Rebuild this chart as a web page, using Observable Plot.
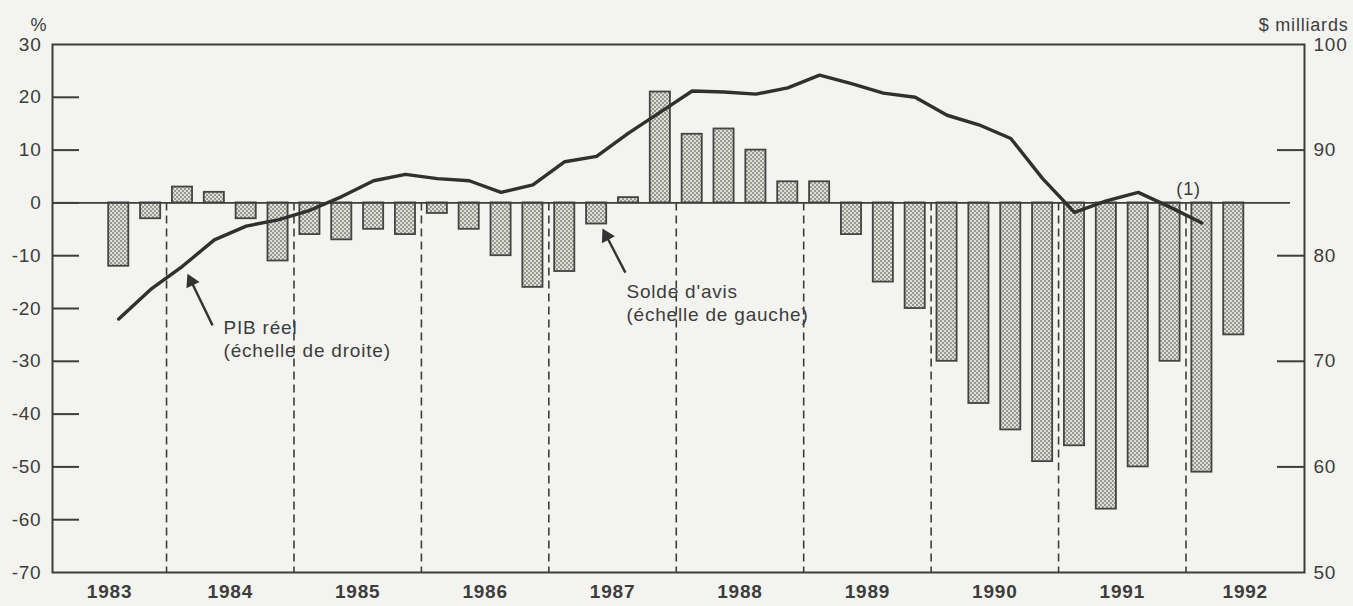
<!DOCTYPE html>
<html><head><meta charset="utf-8">
<script src="https://cdn.jsdelivr.net/npm/d3@7"></script>
<script src="https://cdn.jsdelivr.net/npm/@observablehq/plot@0.6"></script>
<style>
html,body{margin:0;padding:0;background:#f3f3ef;}
#chart svg{display:block;}
#chart svg text{letter-spacing:0.8px;}
</style></head><body><div id="chart"></div>
<script>
// ---- data ----
const years = [1983,1984,1985,1986,1987,1988,1989,1990,1991,1992];
const firstYear = 1983, firstQuarter = 3; // premier trimestre affiché : 1983 T3
// Solde d'avis (%), échelle de gauche, trimestriel 1983T3 - 1992T2
const soldeAvis = [-12,-3, 3,2,-3,-11, -6,-7,-5,-6, -2,-5,-10,-16, -13,-4,1,21, 13,14,10,4, 4,-6,-15,-20, -30,-38,-43,-49, -46,-58,-50,-30, -51,-25];
// PIB réel ($ milliards), échelle de droite, trimestriel 1983T3 - 1992T1
const pibReel = [74.0,76.8,79.0,81.5,82.8,83.4,84.3,85.6,87.1,87.7, 87.3,87.1,86.0,86.7,88.9,89.4,91.6,93.6, 95.6,95.5,95.3,95.9,97.1,96.3,95.4,95.0, 93.3,92.4,91.1,87.3,84.1,85.2,86.0,84.6,83.1];
const leftTicks = [-70,-60,-50,-40,-30,-20,-10,0,10,20,30];
const rightTicks = [50,60,70,80,90,100];
const xDomain = [1983.105, 1992.93];
const annotations = [
  {x: 1984.447, y: -25.6, text: "PIB réel\n(échelle de droite)"},
  {x: 1987.609, y: -18.8, text: "Solde d'avis\n(échelle de gauche)"},
  {x: 1992.02, y: 2.5, text: "(1)"}
];
const arrows = [
  {x1: 1984.361, y1: -23.2, x2: 1984.164, y2: -13.4, rot: -26},
  {x1: 1987.601, y1: -13.2, x2: 1987.421, y2: -4.85, rot: -28}
];

// ---- helpers ----
const rightToLeft = v => (v - 85) * 2;      // 100..50  <->  30..-70
const leftToRight = v => 85 + v / 2;
const qTime = i => firstYear + (firstQuarter - 1 + i + 0.5) / 4;
const bars = soldeAvis.map((v, i) => ({t: qTime(i), v}));
const line = pibReel.map((v, i) => ({t: qTime(i), v}));
const halfBar = 0.079;

const W = 1353, H = 606, mL = 52, mR = 49, mT = 44, mB = 34;
const innerW = W - mL - mR, innerH = H - mT - mB;
const tickLen = 27;
const ink = "#3d3d3d";
const fs = 19;

// arrow head: filled triangle whose tip sits on (x2, y2)
const pxX = innerW / (xDomain[1] - xDomain[0]);
const pxY = innerH / 100;
const headBack = 8.5; // px from tip to centroid
const heads = arrows.map(a => {
  const dxp = (a.x1 - a.x2) * pxX, dyp = -(a.y1 - a.y2) * pxY;
  const len = Math.hypot(dxp, dyp);
  return {x: a.x2 + (dxp / len * headBack) / pxX, y: a.y2 - (dyp / len * headBack) / pxY, rot: a.rot};
});

const plot = Plot.plot({
  width: W, height: H,
  marginLeft: mL, marginRight: mR, marginTop: mT, marginBottom: mB,
  style: {fontFamily: "'Liberation Sans', Arial, Helvetica, sans-serif", fontSize: fs + "px", color: ink, background: "transparent"},
  x: {domain: xDomain, axis: null},
  y: {domain: [-70, 30], axis: null},
  marks: [
    Plot.ruleX(years.slice(1), {y1: 0, y2: -70, stroke: ink, strokeWidth: 1.6, strokeDasharray: "8,5"}),
    Plot.rect(bars, {x1: d => d.t - halfBar, x2: d => d.t + halfBar, y1: 0, y2: "v",
      fill: "url(#stip)", stroke: "#444", strokeWidth: 1.8}),
    Plot.ruleY([0], {insetRight: 14, stroke: ink, strokeWidth: 1.6}),
    Plot.line(line, {x: "t", y: d => rightToLeft(d.v), stroke: "#303030", strokeWidth: 3.4, strokeLinejoin: "round"}),
    Plot.ruleY(leftTicks.slice(1, -1), {insetRight: innerW - tickLen, stroke: ink, strokeWidth: 2}),
    Plot.ruleY(rightTicks.slice(1, -1).map(rightToLeft), {insetLeft: innerW - tickLen, stroke: ink, strokeWidth: 2}),
    Plot.frame({stroke: ink, strokeWidth: 2}),
    Plot.axisY(leftTicks, {anchor: "left", tickSize: 0, tickPadding: 11, tickFormat: d => String(d), fontSize: fs}),
    Plot.axisY(rightTicks.map(rightToLeft), {anchor: "right", tickSize: 0, tickPadding: 9, tickFormat: d => String(leftToRight(d)), fontSize: fs}),
    Plot.text(years, {x: y => (Math.max(y, xDomain[0]) + Math.min(y + 1, xDomain[1])) / 2,
      text: d => String(d), frameAnchor: "bottom", dy: 25, fontWeight: "bold", fontSize: fs}),
    Plot.text(["%"], {frameAnchor: "top-left", dx: -22, dy: -26, fontSize: 18}),
    Plot.text(["$ milliards"], {frameAnchor: "top-right", dx: 44, dy: -26, textAnchor: "end", fontSize: 18}),
    Plot.text(annotations.slice(0, 2), {x: "x", y: "y", text: "text", textAnchor: "start", lineHeight: 1.2, fontSize: 19}),
    Plot.text(annotations.slice(2), {x: "x", y: "y", text: "text", fontSize: 18}),
    Plot.link(arrows, {x1: "x1", y1: "y1", x2: d => heads[arrows.indexOf(d)].x, y2: d => heads[arrows.indexOf(d)].y, stroke: "#333", strokeWidth: 2.4}),
    Plot.dot(heads, {x: "x", y: "y", symbol: "triangle2", r: 7, rotate: "rot", fill: "#333", stroke: "none"})
  ]
});

const ns = "http://www.w3.org/2000/svg";
const defs = document.createElementNS(ns, "defs");
defs.innerHTML = '<pattern id="stip" width="4" height="4" patternUnits="userSpaceOnUse">' +
  '<rect width="4" height="4" fill="#dfdfd9"/>' +
  '<circle cx="1" cy="1" r="0.9" fill="#77776f"/><circle cx="3" cy="3" r="0.9" fill="#77776f"/></pattern>';
plot.insertBefore(defs, plot.firstChild);
document.getElementById("chart").appendChild(plot);
</script></body></html>
